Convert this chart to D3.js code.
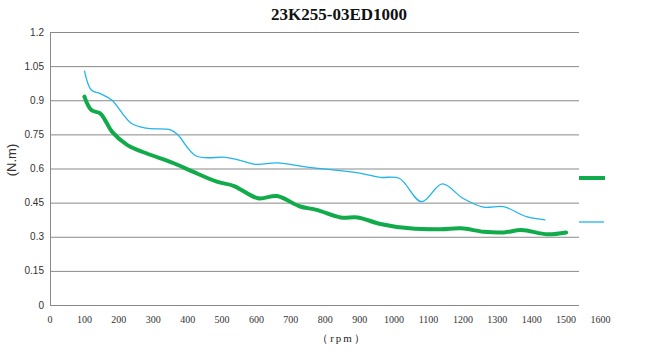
<!DOCTYPE html>
<html><head><meta charset="utf-8">
<script src="https://cdn.jsdelivr.net/npm/d3@7"></script>
<style>body{margin:0;background:#fff}svg{display:block}</style>
</head><body>
<svg id="c" width="648" height="355"></svg>
<script>
const title = "23K255-03ED1000";
const yLabel = "(N.m)";
const xLabel = "（rpm）";
const xTicks = [0,100,200,300,400,500,600,700,800,900,1000,1100,1200,1300,1400,1500,1600];
const yTicks = [0,0.15,0.3,0.45,0.6,0.75,0.9,1.05,1.2];

const blueRpm = [100,120,145,180,235,280,350,372,425,510,550,600,660,755,900,960,1015,1080,1140,1200,1260,1318,1385,1440];
const blueVal = [1.03,0.945,0.93,0.90,0.80,0.777,0.77,0.747,0.655,0.649,0.637,0.618,0.625,0.605,0.58,0.561,0.557,0.454,0.532,0.469,0.43,0.432,0.388,0.374];

const greenRpm = [100,120,145,160,180,225,280,360,415,485,535,605,660,725,775,845,895,960,1045,1135,1195,1260,1320,1370,1445,1500];
const greenVal = [0.916,0.857,0.843,0.813,0.762,0.703,0.667,0.623,0.586,0.542,0.523,0.469,0.479,0.434,0.418,0.385,0.385,0.356,0.337,0.333,0.337,0.322,0.319,0.33,0.311,0.319];

const svg = d3.select("#c");
const x = d3.scaleLinear().domain([0,1600]).range([50,600.5]);
const y = d3.scaleLinear().domain([0,1.2]).range([305,32]);
const gridEnd = 579;

// gridlines
svg.append("g").selectAll("line").data(yTicks).join("line")
  .attr("x1", x(0)).attr("x2", gridEnd)
  .attr("y1", d=>y(d)+0.5).attr("y2", d=>y(d)+0.5)
  .attr("stroke","#898989").attr("stroke-width",1);
// y axis line
svg.append("line").attr("x1",x(0)+0.5).attr("x2",x(0)+0.5).attr("y1",y(1.2)).attr("y2",y(0)+0.5)
  .attr("stroke","#898989");

// y tick labels
svg.append("g").selectAll("text").data(yTicks).join("text")
  .attr("x",44).attr("y",d=>y(d)+3.5).attr("text-anchor","end")
  .attr("font-family","Liberation Sans, Arial, sans-serif").attr("font-size",10).attr("fill","#333")
  .text(d=>d3.format("")(d));
// x tick labels
svg.append("g").selectAll("text").data(xTicks).join("text")
  .attr("x",d=>x(d)).attr("y",323).attr("text-anchor","middle")
  .attr("font-family","Liberation Serif, serif").attr("font-size",10).attr("fill","#333")
  .text(d=>d);

// title
svg.append("text").attr("x",339).attr("y",20).attr("text-anchor","middle")
  .attr("font-family","Liberation Serif, serif").attr("font-weight","bold").attr("font-size",17)
  .attr("fill","#111").text(title);
// axis titles
svg.append("text").attr("transform","translate(16,160) rotate(-90)").attr("text-anchor","middle")
  .attr("font-family","Liberation Sans, Arial, sans-serif").attr("font-size",13).attr("fill","#333").text(yLabel);
svg.append("text").attr("x",342).attr("y",342).attr("text-anchor","middle")
  .attr("font-family","Liberation Serif, serif").attr("font-size",11).attr("letter-spacing","2px").attr("fill","#222").text(xLabel);

const line = d3.line().x(d=>x(d[0])).y(d=>y(d[1])).curve(d3.curveCatmullRom.alpha(0.5));
const blue = blueRpm.map((r,i)=>[r,blueVal[i]]);
const green = greenRpm.map((r,i)=>[r,greenVal[i]]);
svg.append("path").attr("d",line(blue)).attr("fill","none").attr("stroke","#22b4ec").attr("stroke-width",1.3);
svg.append("path").attr("d",line(green)).attr("fill","none").attr("stroke","#12ab4b").attr("stroke-width",4).attr("stroke-linecap","round");

// legend (no text)
svg.append("line").attr("x1",579).attr("x2",605).attr("y1",178).attr("y2",178).attr("stroke","#12ab4b").attr("stroke-width",4);
svg.append("line").attr("x1",579).attr("x2",604).attr("y1",222).attr("y2",222).attr("stroke","#22b4ec").attr("stroke-width",1.3);
</script>
</body></html>
